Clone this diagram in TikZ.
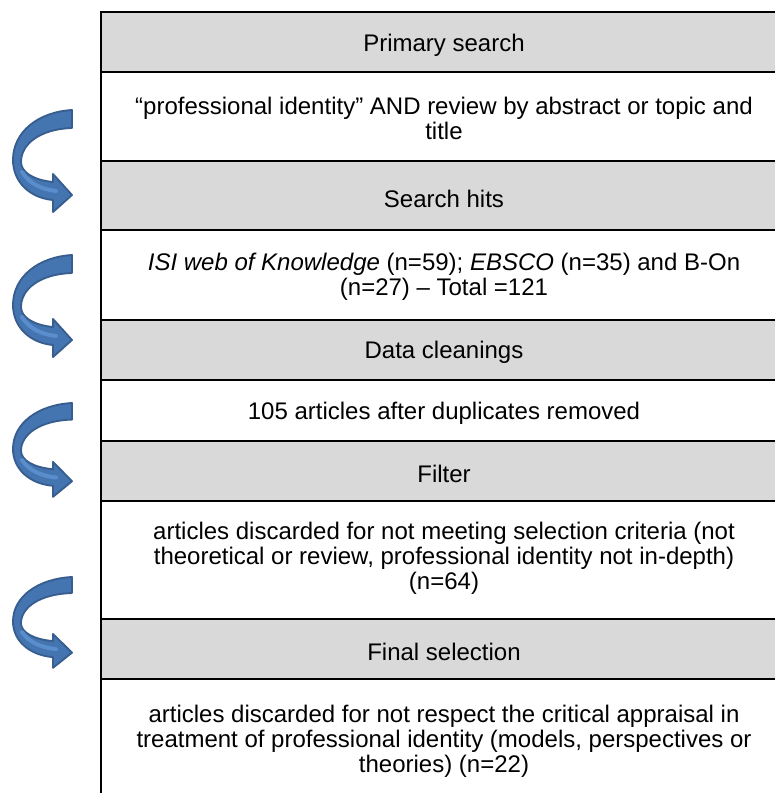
\documentclass[tikz,border=0pt]{standalone}
\usepackage{fontspec}
\setmainfont{Liberation Sans}
\definecolor{rowgray}{HTML}{D9D9D9}
\definecolor{arrfill}{HTML}{4475B0}
\definecolor{arrline}{HTML}{375E8E}
\definecolor{arrlight}{HTML}{5A8DCC}
\begin{document}
\begin{tikzpicture}[x=0.75pt,y=-0.75pt,
  cell/.style={align=center,font=\fontsize{18}{18.75}\selectfont,inner sep=0pt},
  grid/.style={line width=1.7pt,black},
  bluearrow/.style={fill=arrfill,draw=arrline,line width=1.4pt,line join=round}]
\useasboundingbox (0,0) rectangle (775,793);
\begin{scope}
\clip (0,0) rectangle (775,793);
% gray header rows
\foreach \a/\b in {12/72,161/230,320/380,441/501,619/679}
  \fill[rowgray] (101,\a) rectangle (800,\b);
% horizontal lines
\foreach \y in {12,72,161,230,320,380,441,501,619,679}
  \draw[grid] (101,\y) -- (800,\y);
% left border
\draw[grid] (101,11.2) -- (101,800);
\end{scope}
% texts
\node[cell] (t1) at (444,45) {Primary search};
\node[cell] (t2) at (444,118) {“professional identity” AND review by abstract or topic and\\ title};
\node[cell] (t3) at (444,199) {Search hits};
\node[cell] (t4) at (444,277) {\textit{ISI web of Knowledge} (n=59); \textit{EBSCO} (n=35) and B-On\\ (n=27) – Total =121};
\node[cell] (t5) at (444,352) {Data cleanings};
\node[cell] (t6) at (444,413) {105 articles after duplicates removed};
\node[cell] (t7) at (444,474) {Filter};
\node[cell] (t8) at (444,558.5) {articles discarded for not meeting selection criteria (not\\ theoretical or review, professional identity not in-depth)\\ (n=64)};
\node[cell] (t9) at (444,652) {Final selection};
\node[cell] (t10) at (444,741) {articles discarded for not respect the critical appraisal in\\ treatment of professional identity (models, perspectives or\\ theories) (n=22)};
% curved arrows
\foreach \top/\s in {110/1.0,255/1.0,403/0.92,577/0.89}{
\begin{scope}[shift={(0,\top)},yscale=\s]
\path[bluearrow] (72,0) .. controls (38,2) and (13,22) .. (13,50)
  .. controls (13,72) and (30,88) .. (53,90) -- (53,102) -- (72,85) -- (53,64) -- (53,72)
  .. controls (33,70) and (21,62) .. (21,52)
  .. controls (21,34) and (40,19) .. (72,18) -- cycle;
\draw[arrlight,line width=3pt,line cap=round] (22,62) .. controls (29,73) and (40,79) .. (56,81);
\end{scope}}
\end{tikzpicture}
\end{document}
